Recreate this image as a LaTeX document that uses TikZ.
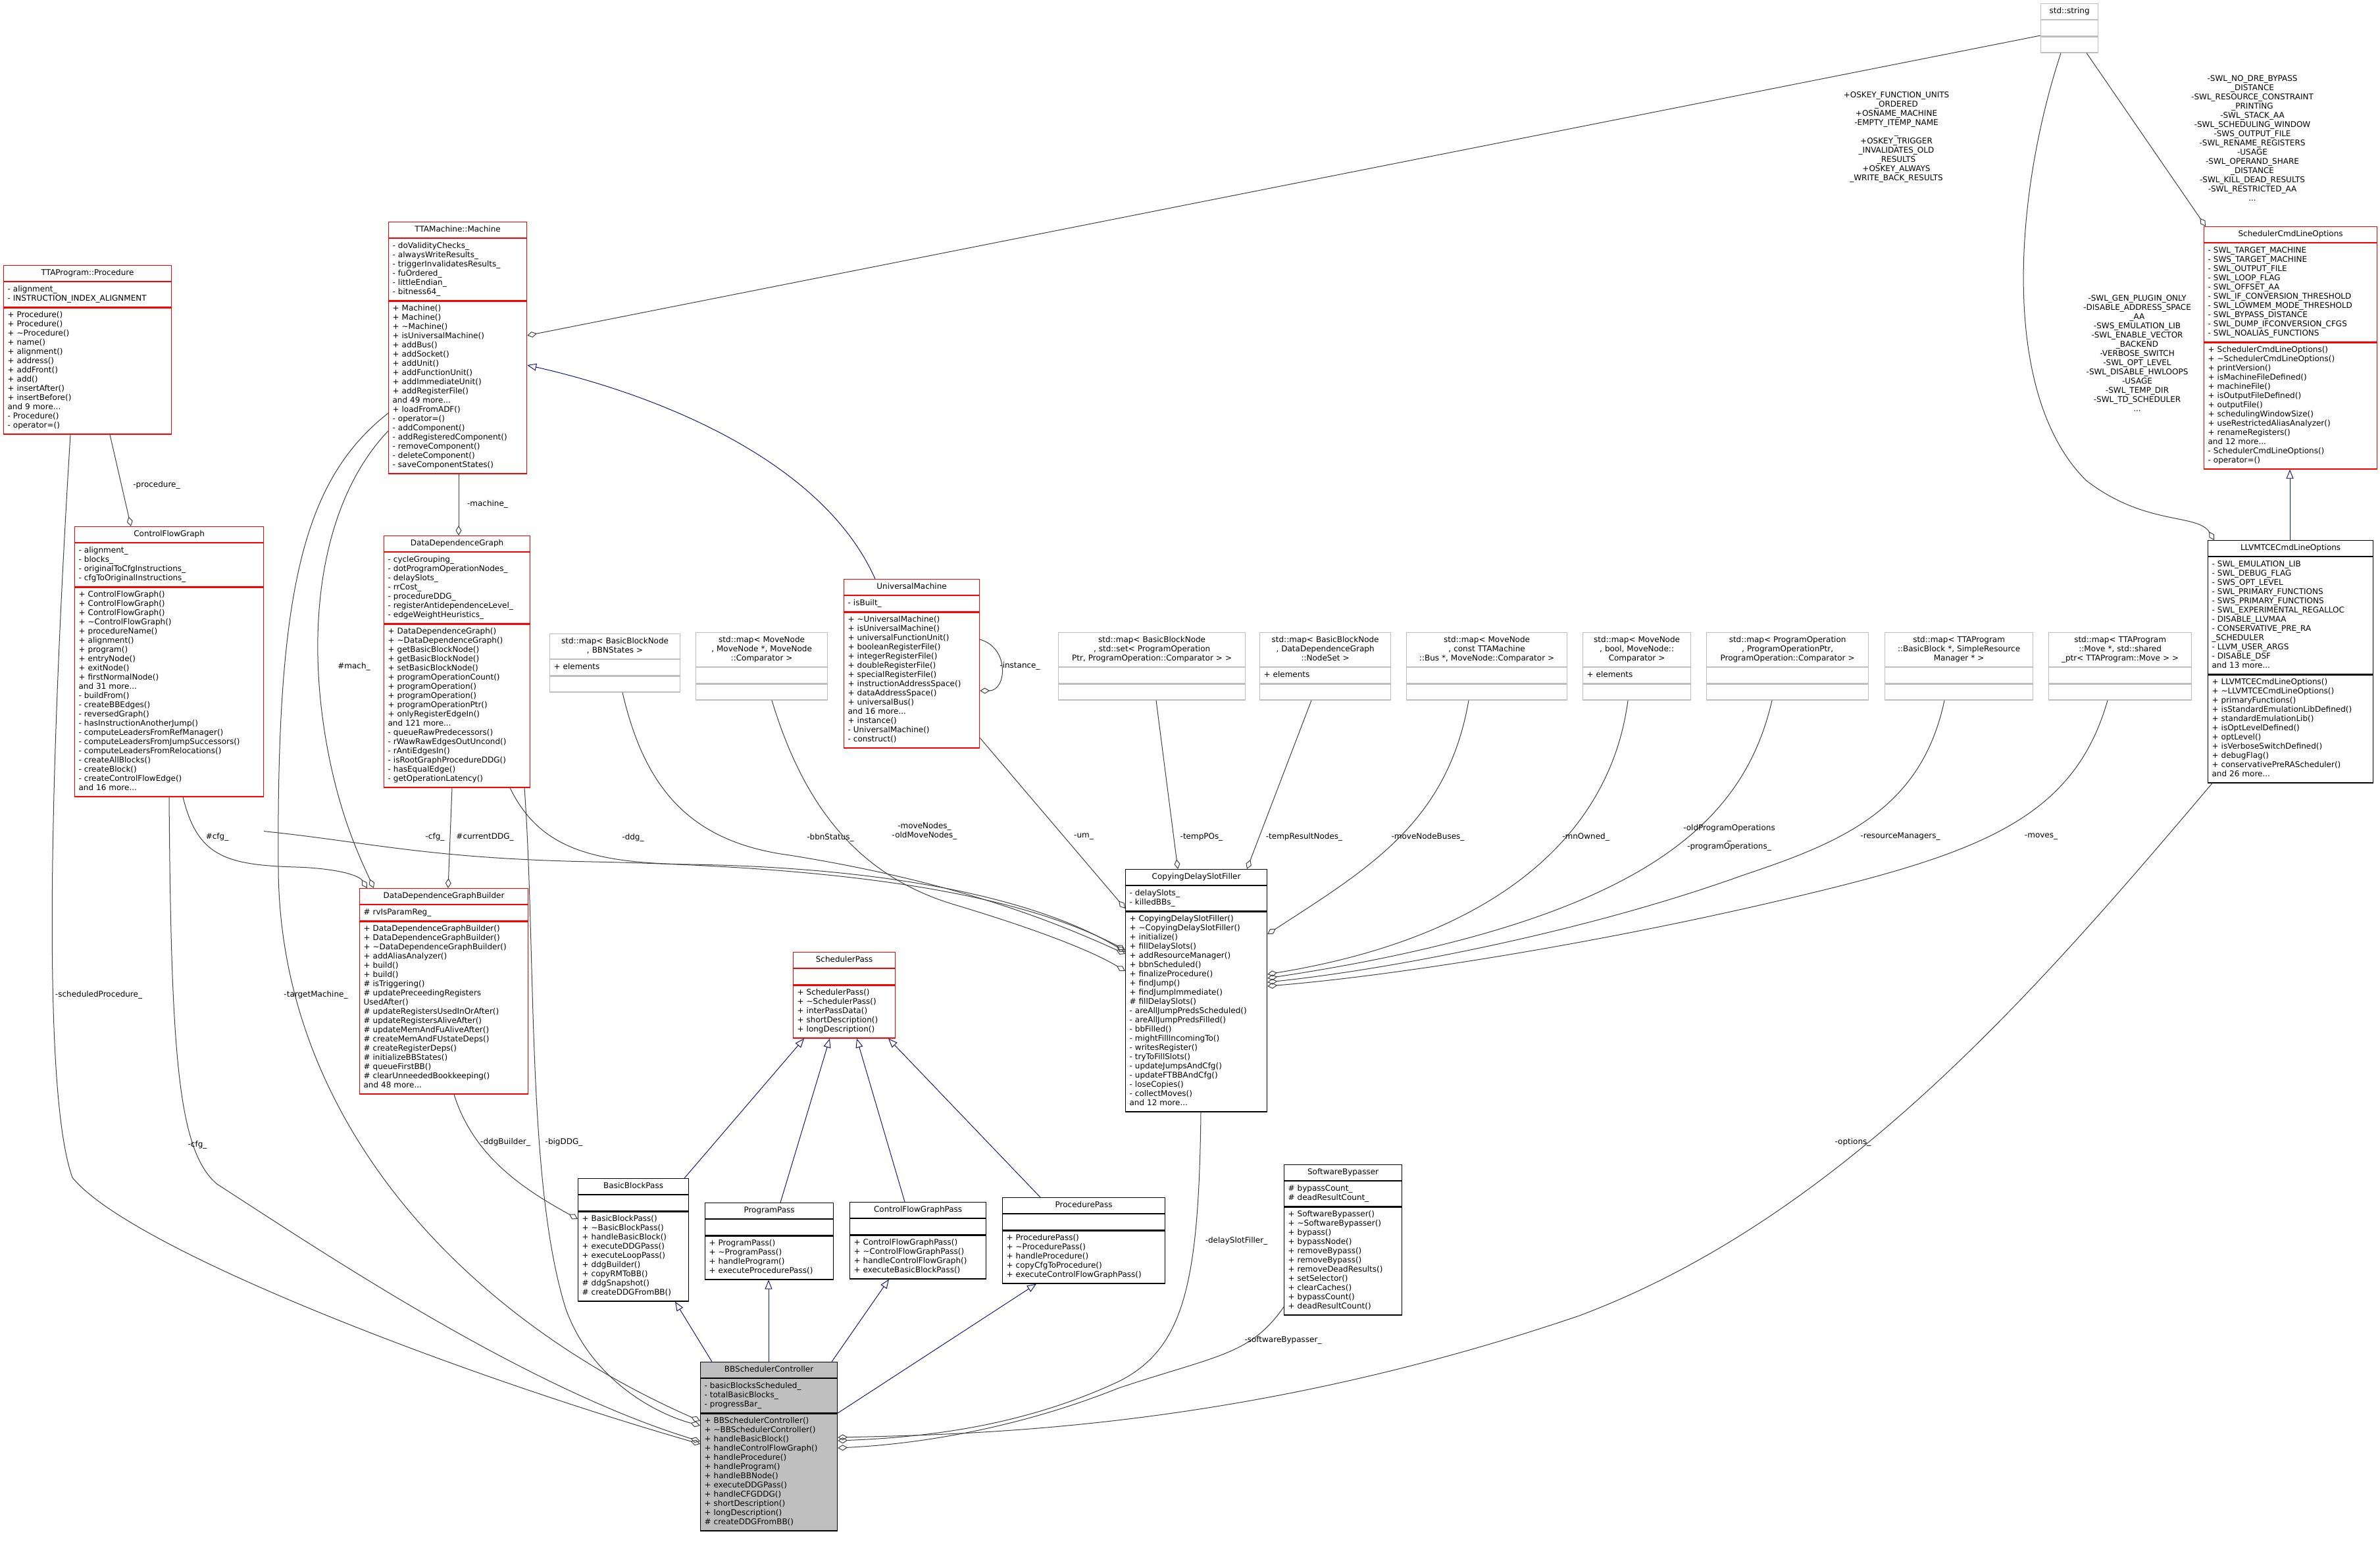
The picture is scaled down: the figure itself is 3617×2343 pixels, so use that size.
\documentclass[tikz,border=0pt]{standalone}
\usepackage{fontspec}
\setmainfont{DejaVu Sans}
\usetikzlibrary{arrows.meta,positioning}

\definecolor{umlred}{RGB}{255,0,0}
\definecolor{umlgrey}{RGB}{191,191,191}
\definecolor{edgegrey}{RGB}{64,64,64}
\definecolor{inhblue}{RGB}{25,25,112}

\newcommand{\tl}{\textasciitilde}
% one class box: style, name, x, y, width, title, attributes, methods
\newcommand{\umlclass}[8]{%
  \pgfmathsetmacro{\tw}{#5-12}
  \node[#1, cltitle, text width=\tw pt, anchor=north west] (#2) at (#3,#4) {#6};
  \node[#1, clbody, text width=\tw pt, anchor=north] (#2-a) at (#2.south) {#7};
  \node[#1, clbody, text width=\tw pt, anchor=north] (#2-m) at (#2-a.south) {#8};
}

\begin{document}
\begin{tikzpicture}[
    x = 1pt, y = -1pt,
    every node/.style = {font=\fontsize{12}{14}\selectfont},
    cltitle/.style = {align=center, inner xsep=6pt, inner ysep=5pt,
      execute at begin node=\strut, execute at end node=\strut},
    clbody/.style = {align=left, inner xsep=6pt, inner ysep=5pt,
      execute at begin node=\strut, execute at end node=\strut},
    redbox/.style = {draw=umlred, line width=1.2pt, fill=white},
    blackbox/.style = {draw=black, line width=1.2pt, fill=white},
    greybox/.style = {draw=umlgrey, line width=1.2pt, fill=white},
    mainbox/.style = {draw=black, line width=1.2pt, fill=umlgrey},
    aggr/.style = {draw=edgegrey, line width=1pt, -{Diamond[open,length=15pt,width=9pt]}},
    inh/.style = {draw=inhblue, line width=1pt, -{Triangle[open,length=14pt,width=11pt]}},
    lbl/.style = {align=center, inner sep=1pt}
    ]
    \useasboundingbox (0,0) rectangle (3617,2343);

    % classes
    \umlclass{redbox}{proc}{5}{403}{255}{TTAProgram::Procedure}
      {- alignment\_\\- INSTRUCTION\_INDEX\_ALIGNMENT}
      {+ Procedure()\\+ Procedure()\\+ \tl Procedure()\\+ name()\\+ alignment()\\+ address()\\+ addFront()\\+ add()\\+ insertAfter()\\+ insertBefore()\\and 9 more...\\- Procedure()\\- operator=()}
    \umlclass{redbox}{mach}{590}{337}{210}{TTAMachine::Machine}
      {- doValidityChecks\_\\- alwaysWriteResults\_\\- triggerInvalidatesResults\_\\- fuOrdered\_\\- littleEndian\_\\- bitness64\_}
      {+ Machine()\\+ Machine()\\+ \tl Machine()\\+ isUniversalMachine()\\+ addBus()\\+ addSocket()\\+ addUnit()\\+ addFunctionUnit()\\+ addImmediateUnit()\\+ addRegisterFile()\\and 49 more...\\+ loadFromADF()\\- operator=()\\- addComponent()\\- addRegisteredComponent()\\- removeComponent()\\- deleteComponent()\\- saveComponentStates()}
    \umlclass{redbox}{cfg}{113}{800}{287}{ControlFlowGraph}
      {- alignment\_\\- blocks\_\\- originalToCfgInstructions\_\\- cfgToOriginalInstructions\_}
      {+ ControlFlowGraph()\\+ ControlFlowGraph()\\+ ControlFlowGraph()\\+ \tl ControlFlowGraph()\\+ procedureName()\\+ alignment()\\+ program()\\+ entryNode()\\+ exitNode()\\+ firstNormalNode()\\and 31 more...\\- buildFrom()\\- createBBEdges()\\- reversedGraph()\\- hasInstructionAnotherJump()\\- computeLeadersFromRefManager()\\-~computeLeadersFromJumpSuccessors()\\- computeLeadersFromRelocations()\\- createAllBlocks()\\- createBlock()\\- createControlFlowEdge()\\and 16 more...}
    \umlclass{redbox}{ddg}{583}{814}{222}{DataDependenceGraph}
      {- cycleGrouping\_\\- dotProgramOperationNodes\_\\- delaySlots\_\\- rrCost\_\\- procedureDDG\_\\-~registerAntidependenceLevel\_\\- edgeWeightHeuristics\_}
      {+ DataDependenceGraph()\\+ \tl DataDependenceGraph()\\+ getBasicBlockNode()\\+ getBasicBlockNode()\\+ setBasicBlockNode()\\+ programOperationCount()\\+ programOperation()\\+ programOperation()\\+ programOperationPtr()\\+ onlyRegisterEdgeIn()\\and 121 more...\\- queueRawPredecessors()\\- rWawRawEdgesOutUncond()\\- rAntiEdgesIn()\\- isRootGraphProcedureDDG()\\- hasEqualEdge()\\- getOperationLatency()}
    \umlclass{redbox}{um}{1282}{880}{206}{UniversalMachine}
      {- isBuilt\_}
      {+ \tl UniversalMachine()\\+ isUniversalMachine()\\+ universalFunctionUnit()\\+ booleanRegisterFile()\\+ integerRegisterFile()\\+ doubleRegisterFile()\\+ specialRegisterFile()\\+ instructionAddressSpace()\\+ dataAddressSpace()\\+ universalBus()\\and 16 more...\\+ instance()\\- UniversalMachine()\\- construct()}
    \umlclass{redbox}{ddgb}{546}{1350}{256}{DataDependenceGraphBuilder}
      {\# rvIsParamReg\_}
      {+ DataDependenceGraphBuilder()\\+ DataDependenceGraphBuilder()\\+ \tl DataDependenceGraphBuilder()\\+ addAliasAnalyzer()\\+ build()\\+ build()\\\# isTriggering()\\\# updatePreceedingRegisters\\UsedAfter()\\\# updateRegistersUsedInOrAfter()\\\# updateRegistersAliveAfter()\\\# updateMemAndFuAliveAfter()\\\# createMemAndFUstateDeps()\\\# createRegisterDeps()\\\# initializeBBStates()\\\# queueFirstBB()\\\# clearUnneededBookkeeping()\\and 48 more...}
    \umlclass{redbox}{sp}{1205}{1447}{155}{SchedulerPass}
      {}
      {+ SchedulerPass()\\+ \tl SchedulerPass()\\+ interPassData()\\+ shortDescription()\\+ longDescription()}
    \umlclass{blackbox}{bbp}{878}{1791}{168}{BasicBlockPass}
      {}
      {+ BasicBlockPass()\\+ \tl BasicBlockPass()\\+ handleBasicBlock()\\+ executeDDGPass()\\+ executeLoopPass()\\+ ddgBuilder()\\+ copyRMToBB()\\\# ddgSnapshot()\\\# createDDGFromBB()}
    \umlclass{blackbox}{pp}{1071}{1828}{195}{ProgramPass}
      {}
      {+ ProgramPass()\\+ \tl ProgramPass()\\+ handleProgram()\\+ executeProcedurePass()}
    \umlclass{blackbox}{cfgp}{1291}{1827}{207}{ControlFlowGraphPass}
      {}
      {+ ControlFlowGraphPass()\\+ \tl ControlFlowGraphPass()\\+ handleControlFlowGraph()\\+ executeBasicBlockPass()}
    \umlclass{blackbox}{prp}{1523}{1820}{247}{ProcedurePass}
      {}
      {+ ProcedurePass()\\+ \tl ProcedurePass()\\+ handleProcedure()\\+ copyCfgToProcedure()\\+ executeControlFlowGraphPass()}
    \umlclass{blackbox}{swb}{1951}{1770}{179}{SoftwareBypasser}
      {\# bypassCount\_\\\# deadResultCount\_}
      {+ SoftwareBypasser()\\+ \tl SoftwareBypasser()\\+ bypass()\\+ bypassNode()\\+ removeBypass()\\+ removeBypass()\\+ removeDeadResults()\\+ setSelector()\\+ clearCaches()\\+ bypassCount()\\+ deadResultCount()}
    \umlclass{blackbox}{cdsf}{1710}{1321}{215}{CopyingDelaySlotFiller}
      {- delaySlots\_\\- killedBBs\_}
      {+ CopyingDelaySlotFiller()\\+~\tl CopyingDelaySlotFiller()\\+ initialize()\\+ fillDelaySlots()\\+ addResourceManager()\\+ bbnScheduled()\\+ finalizeProcedure()\\+ findJump()\\+ findJumpImmediate()\\\# fillDelaySlots()\\- areAllJumpPredsScheduled()\\- areAllJumpPredsFilled()\\- bbFilled()\\- mightFillIncomingTo()\\- writesRegister()\\- tryToFillSlots()\\- updateJumpsAndCfg()\\- updateFTBBAndCfg()\\- loseCopies()\\- collectMoves()\\and 12 more...}
    \umlclass{mainbox}{bbsc}{1064}{2070}{208}{BBSchedulerController}
      {- basicBlocksScheduled\_\\- totalBasicBlocks\_\\- progressBar\_}
      {+ BBSchedulerController()\\+~\tl BBSchedulerController()\\+ handleBasicBlock()\\+ handleControlFlowGraph()\\+ handleProcedure()\\+ handleProgram()\\+ handleBBNode()\\+ executeDDGPass()\\+ handleCFGDDG()\\+ shortDescription()\\+ longDescription()\\\# createDDGFromBB()}
    \umlclass{redbox}{sclo}{3349}{344}{263}{SchedulerCmdLineOptions}
      {- SWL\_TARGET\_MACHINE\\- SWS\_TARGET\_MACHINE\\- SWL\_OUTPUT\_FILE\\- SWL\_LOOP\_FLAG\\- SWL\_OFFSET\_AA\\-~SWL\_IF\_CONVERSION\_THRESHOLD\\-~SWL\_LOWMEM\_MODE\_THRESHOLD\\- SWL\_BYPASS\_DISTANCE\\-~SWL\_DUMP\_IFCONVERSION\_CFGS\\- SWL\_NOALIAS\_FUNCTIONS}
      {+ SchedulerCmdLineOptions()\\+ \tl SchedulerCmdLineOptions()\\+ printVersion()\\+ isMachineFileDefined()\\+ machineFile()\\+ isOutputFileDefined()\\+ outputFile()\\+ schedulingWindowSize()\\+ useRestrictedAliasAnalyzer()\\+ renameRegisters()\\and 12 more...\\- SchedulerCmdLineOptions()\\- operator=()}
    \umlclass{blackbox}{llvm}{3355}{821}{251}{LLVMTCECmdLineOptions}
      {- SWL\_EMULATION\_LIB\\- SWL\_DEBUG\_FLAG\\- SWS\_OPT\_LEVEL\\- SWL\_PRIMARY\_FUNCTIONS\\- SWS\_PRIMARY\_FUNCTIONS\\-~SWL\_EXPERIMENTAL\_REGALLOC\\- DISABLE\_LLVMAA\\- CONSERVATIVE\_PRE\_RA\\\_SCHEDULER\\- LLVM\_USER\_ARGS\\- DISABLE\_DSF\\and 13 more...}
      {+ LLVMTCECmdLineOptions()\\+ \tl LLVMTCECmdLineOptions()\\+ primaryFunctions()\\+~isStandardEmulationLibDefined()\\+ standardEmulationLib()\\+ isOptLevelDefined()\\+ optLevel()\\+ isVerboseSwitchDefined()\\+ debugFlag()\\+ conservativePreRAScheduler()\\and 26 more...}
    \umlclass{greybox}{str}{3101}{5}{87}{std::string}{}{}
    \umlclass{greybox}{bbnmap}{835}{963}{198}{std::map< BasicBlockNode\\ *, BBNStates >}{+ elements}{}
    \umlclass{greybox}{mnmap}{1057}{961}{200}{std::map< MoveNode\\ *, MoveNode *, MoveNode\\ ::Comparator >}{}{}
    \umlclass{greybox}{pomap}{1608}{961}{284}{std::map< BasicBlockNode\\ *, std::set< ProgramOperation\\Ptr, ProgramOperation::Comparator > >}{}{}
    \umlclass{greybox}{nsmap}{1914}{961}{199}{std::map< BasicBlockNode\\ *, DataDependenceGraph\\ ::NodeSet >}{+ elements}{}
    \umlclass{greybox}{busmap}{2137}{961}{244}{std::map< MoveNode\\ *, const TTAMachine\\ ::Bus *, MoveNode::Comparator >}{}{}
    \umlclass{greybox}{boolmap}{2405}{961}{164}{std::map< MoveNode\\ *, bool, MoveNode::\\ Comparator >}{+ elements}{}
    \umlclass{greybox}{popmap}{2593}{961}{246}{std::map< ProgramOperation\\ *, ProgramOperationPtr,\\ ProgramOperation::Comparator >}{}{}
    \umlclass{greybox}{rmmap}{2864}{961}{225}{std::map< TTAProgram\\ ::BasicBlock *, SimpleResource\\ Manager * >}{}{}
    \umlclass{greybox}{mvmap}{3113}{961}{217}{std::map< TTAProgram\\ ::Move *, std::shared\\ \_ptr< TTAProgram::Move > >}{}{}

    % inheritance
    \draw[inh] ([xshift=125pt]llvm.north west) -- ([xshift=131pt]sclo-m.south west);
    \draw[inh] ([xshift=48pt]um.north west) .. controls (1250,700) and (1000,600) .. ([yshift=-218pt]mach.north east);
    \draw[inh] ([xshift=18pt]bbsc.north west) -- ([xshift=148pt]bbp-m.south west);
    \draw[inh] ([xshift=104pt]bbsc.north west) -- ([xshift=97pt]pp-m.south west);
    \draw[inh] ([xshift=200pt]bbsc.north west) -- ([xshift=60pt]cfgp-m.south west);
    \draw[inh] ([yshift=-78pt]bbsc.north east) -- ([xshift=52pt]prp-m.south west);
    \draw[inh] ([xshift=162pt]bbp.north west) -- ([xshift=17pt]sp-m.south west);
    \draw[inh] ([xshift=115pt]pp.north west) -- ([xshift=56pt]sp-m.south west);
    \draw[inh] ([xshift=84pt]cfgp.north west) -- ([xshift=97pt]sp-m.south west);
    \draw[inh] ([xshift=58pt]prp.north west) -- ([xshift=145pt]sp-m.south west);

    % std::string members
    \draw[aggr] ([yshift=-49pt]str.north west) -- ([yshift=-173pt]mach.north east);
    \draw[aggr] ([xshift=70pt]str-m.south west) -- ([xshift=3pt]sclo.north west);
    \draw[aggr] ([xshift=31pt]str-m.south west) .. controls (3060,300) and (3040,600) .. (3170,730)
      .. controls (3260,800) and (3340,780) .. ([xshift=10pt]llvm.north west);
    \node[lbl] (l-os) at (2882,208) {+OSKEY\_FUNCTION\_UNITS\\\_ORDERED\\+OSNAME\_MACHINE\\-EMPTY\_ITEMP\_NAME\\\_\\+OSKEY\_TRIGGER\\\_INVALIDATES\_OLD\\\_RESULTS\\+OSKEY\_ALWAYS\\\_WRITE\_BACK\_RESULTS};
    \node[lbl] (l-swl) at (3423,210) {-SWL\_NO\_DRE\_BYPASS\\\_DISTANCE\\-SWL\_RESOURCE\_CONSTRAINT\\\_PRINTING\\-SWL\_STACK\_AA\\-SWL\_SCHEDULING\_WINDOW\\-SWS\_OUTPUT\_FILE\\-SWL\_RENAME\_REGISTERS\\-USAGE\\-SWL\_OPERAND\_SHARE\\\_DISTANCE\\-SWL\_KILL\_DEAD\_RESULTS\\-SWL\_RESTRICTED\_AA\\...};
    \node[lbl] (l-llvm) at (3248,537) {-SWL\_GEN\_PLUGIN\_ONLY\\-DISABLE\_ADDRESS\_SPACE\\\_AA\\-SWS\_EMULATION\_LIB\\-SWL\_ENABLE\_VECTOR\\\_BACKEND\\-VERBOSE\_SWITCH\\-SWL\_OPT\_LEVEL\\-SWL\_DISABLE\_HWLOOPS\\-USAGE\\-SWL\_TEMP\_DIR\\-SWL\_TD\_SCHEDULER\\...};

    % left side members
    \draw[aggr] ([xshift=162pt]proc-m.south west) -- ([xshift=86pt]cfg.north west);
    \node[lbl] (l-proc) at (238,737) {-procedure\_};
    \draw[aggr] ([xshift=107pt]mach-m.south west) -- ([xshift=114pt]ddg.north west);
    \node[lbl] (l-mach) at (741,766) {-machine\_};
    \draw[aggr] ([xshift=104pt]ddg-m.south west) -- ([xshift=135pt]ddgb.north west);
    \node[lbl] (l-curddg) at (737,1272) {\#currentDDG\_};
    \draw[aggr] ([yshift=-318pt]mach.north west) .. controls (490,760) and (460,950) .. (500,1150)
      .. controls (520,1250) and (550,1310) .. ([xshift=22pt]ddgb.north west);
    \node[lbl] (l-mach2) at (538,1013) {\#mach\_};
    \draw[aggr] ([xshift=165pt]cfg-m.south west) .. controls (300,1300) and (340,1315) .. (450,1318)
      .. controls (510,1320) and (545,1330) .. ([xshift=12pt]ddgb.north west);
    \node[lbl] (l-cfg1) at (330,1272) {\#cfg\_};
    \draw[aggr] ([xshift=144pt]ddgb-m.south west) .. controls (720,1760) and (800,1810) .. ([yshift=-62pt]bbp.north west);
    \node[lbl] (l-ddgb) at (768,1736) {-ddgBuilder\_};

    % members of BBSchedulerController, left
    \draw[aggr] ([xshift=102pt]proc-m.south west) .. controls (80,1100) and (60,1650) .. (110,1790)
      .. controls (200,1900) and (700,2090) .. ([yshift=-125pt]bbsc.north west);
    \node[lbl] (l-sproc) at (150,1512) {-scheduledProcedure\_};
    \draw[aggr] ([xshift=144pt]cfg-m.south west) .. controls (260,1600) and (270,1750) .. (330,1800)
      .. controls (500,1910) and (800,2110) .. ([yshift=-121pt]bbsc.north west);
    \node[lbl] (l-cfg3) at (300,1740) {-cfg\_};
    \draw[aggr] ([yshift=-291pt]mach.north west) .. controls (460,730) and (420,900) .. (423,1320)
      .. controls (425,1700) and (700,2000) .. ([yshift=-90pt]bbsc.north west);
    \node[lbl] (l-tm) at (480,1512) {-targetMachine\_};
    \draw[aggr] ([xshift=214pt]ddg-m.south west) .. controls (815,1450) and (800,1800) .. (860,1990)
      .. controls (900,2100) and (1000,2150) .. ([yshift=-97pt]bbsc.north west);
    \node[lbl] (l-bigddg) at (857,1736) {-bigDDG\_};

    % members of CopyingDelaySlotFiller
    \draw[aggr] ([yshift=-52pt]cfg-m.south east) .. controls (560,1280) and (650,1305) .. (900,1310)
      .. controls (1300,1318) and (1550,1360) .. ([yshift=-123pt]cdsf.north west);
    \node[lbl] (l-cfg2) at (661,1272) {-cfg\_};
    \draw[aggr] ([xshift=192pt]ddg-m.south west) .. controls (820,1290) and (900,1312) .. (1050,1314)
      .. controls (1400,1320) and (1600,1380) .. ([yshift=-126pt]cdsf.north west);
    \node[lbl] (l-ddg) at (962,1273) {-ddg\_};
    \draw[aggr] ([xshift=111pt]bbnmap-m.south west) .. controls (980,1200) and (1050,1280) .. (1200,1300)
      .. controls (1450,1340) and (1600,1400) .. ([yshift=-129pt]cdsf.north west);
    \node[lbl] (l-bbn) at (1262,1273) {-bbnStatus\_};
    \draw[aggr] ([xshift=116pt]mnmap-m.south west) .. controls (1220,1220) and (1300,1330) .. (1450,1375)
      .. controls (1550,1405) and (1650,1440) .. ([yshift=-155pt]cdsf.north west);
    \node[lbl] (l-mn) at (1405,1263) {-moveNodes\_\\-oldMoveNodes\_};
    \draw[aggr] ([yshift=16pt]um-m.south east) -- ([yshift=-60pt]cdsf.north west);
    \node[lbl] (l-um) at (1647,1272) {-um\_};
    \draw[aggr] ([yshift=-92pt]um.north east) .. controls (1535,985) and (1530,1050) .. ([yshift=-170pt]um.north east);
    \node[lbl] (l-inst) at (1550,1012) {-instance\_};
    \draw[aggr] ([xshift=149pt]pomap-m.south west) -- ([xshift=80pt]cdsf.north west);
    \node[lbl] (l-po) at (1826,1272) {-tempPOs\_};
    \draw[aggr] ([xshift=79pt]nsmap-m.south west) -- ([xshift=185pt]cdsf.north west);
    \node[lbl] (l-ns) at (1982,1272) {-tempResultNodes\_};
    \draw[aggr] ([xshift=95pt]busmap-m.south west) .. controls (2200,1250) and (2080,1320) .. ([yshift=-99pt]cdsf.north east);
    \node[lbl] (l-bus) at (2170,1272) {-moveNodeBuses\_};
    \draw[aggr] ([xshift=69pt]boolmap-m.south west) .. controls (2450,1250) and (2300,1420) .. ([yshift=-160pt]cdsf.north east);
    \node[lbl] (l-own) at (2410,1272) {-mnOwned\_};
    \draw[aggr] ([xshift=100pt]popmap-m.south west) .. controls (2650,1250) and (2500,1400) .. ([yshift=-166pt]cdsf.north east);
    \node[lbl] (l-pop) at (2628,1273) {-oldProgramOperations\\\_\\-programOperations\_};
    \draw[aggr] ([xshift=91pt]rmmap-m.south west) .. controls (2920,1230) and (2800,1280) .. (2650,1330)
      .. controls (2400,1420) and (2100,1475) .. ([yshift=-172pt]cdsf.north east);
    \node[lbl] (l-rm) at (2888,1272) {-resourceManagers\_};
    \draw[aggr] ([xshift=90pt]mvmap-m.south west) .. controls (3150,1250) and (3000,1300) .. (2700,1370)
      .. controls (2400,1440) and (2100,1485) .. ([yshift=-178pt]cdsf.north east);
    \node[lbl] (l-mv) at (3102,1272) {-moves\_};

    % members of BBSchedulerController, right
    \draw[aggr] ([xshift=115pt]cdsf-m.south west) .. controls (1822,1950) and (1800,2050) .. (1700,2100)
      .. controls (1550,2170) and (1400,2185) .. ([yshift=-120pt]bbsc.north east);
    \node[lbl] (l-dsf) at (1879,1886) {-delaySlotFiller\_};
    \draw[aggr] ([yshift=13pt]swb-m.south west) .. controls (1900,2060) and (1850,2060) .. (1700,2110)
      .. controls (1550,2170) and (1400,2195) .. ([yshift=-131pt]bbsc.north east);
    \node[lbl] (l-swb) at (1950,2037) {-softwareBypasser\_};
    \draw[aggr] ([xshift=7pt]llvm-m.south west) .. controls (3100,1500) and (2800,1850) .. (2400,2000)
      .. controls (1900,2170) and (1500,2180) .. ([yshift=-115pt]bbsc.north east);
    \node[lbl] (l-opt) at (2816,1736) {-options\_};
\end{tikzpicture}
\end{document}
